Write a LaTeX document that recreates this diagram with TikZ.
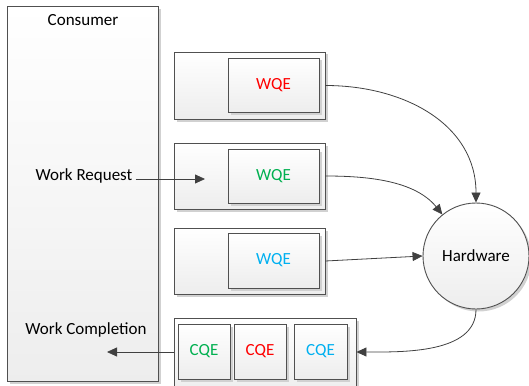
\documentclass[tikz,border=0pt]{standalone}
\usepackage{fontspec}
\setmainfont{Carlito}
\usetikzlibrary{arrows.meta,shadows}
\definecolor{wred}{RGB}{255,0,0}
\definecolor{wgreen}{RGB}{0,176,80}
\definecolor{wblue}{RGB}{0,176,240}
\definecolor{edge}{RGB}{80,80,80}
\tikzset{
  box/.style={draw=edge, line width=0.9pt, top color=white, bottom color=black!7,
    drop shadow={shadow xshift=2.5pt, shadow yshift=-2.5pt, fill=black!18, opacity=1},
    inner sep=0pt, font=\fontsize{17}{19}\selectfont},
  txt/.style={inner sep=0pt, font=\fontsize{17}{19}\selectfont},
  conn/.style={draw=black!75, line width=0.8pt, -{Triangle[length=10pt,width=9pt]}},
}
\begin{document}
\begin{tikzpicture}[x=1pt,y=-1pt]
\useasboundingbox (0,0) rectangle (529,385);
\clip (0,0) rectangle (529,385);
% consumer
\node[box, minimum width=151pt, minimum height=375pt] (cons) at (82.5,194) {};
\node[txt] (constxt) at (83,20) {Consumer};
% queue boxes
\node[box, minimum width=151pt, minimum height=67pt] (b1) at (249.5,85.5) {};
\node[box, minimum width=91pt, minimum height=54pt, text=wred] (w1) at (273.5,85) {WQE};
\node[box, minimum width=151pt, minimum height=66pt] (b2) at (249.5,176) {};
\node[box, minimum width=91pt, minimum height=54pt, text=wgreen] (w2) at (273.5,176) {WQE};
\node[box, minimum width=151pt, minimum height=66pt] (b3) at (249.5,261) {};
\node[box, minimum width=91pt, minimum height=55pt, text=wblue] (w3) at (273.5,260.5) {WQE};
% completion queue
\node[box, minimum width=182pt, minimum height=76pt] (cq) at (265,356) {};
\node[box, minimum width=52pt, minimum height=55pt, text=wgreen] (c1) at (204,351.5) {CQE};
\node[box, minimum width=52pt, minimum height=55pt, text=wred] (c2) at (260,351.5) {CQE};
\node[box, minimum width=53pt, minimum height=55pt, text=wblue] (c3) at (320.5,351.5) {CQE};
% hardware
\node[box, circle, minimum size=106pt] (hw) at (476,256) {Hardware};
% labels
\node[txt] (wr) at (84,176) {Work Request};
\node[txt] (wc) at (86,330) {Work Completion};
\coordinate (wrend) at (205,179);
\coordinate (wcend) at (107,352);
% connectors
\draw[conn] (wr.east |- wrend) ++(3,0) -- (wrend);
\draw[conn] (cq.west |- wcend) -- (wcend);
\draw[conn] (b1.east) to[out=0,in=90,looseness=1.05] (hw.north);
\draw[conn] (b2.east) to[out=0,in=129,looseness=0.9] (hw.129);
\draw[conn] (b3.east) -- (hw.west);
\draw[conn] (hw.south) to[out=-90,in=0,looseness=0.9] (cq.east |- wcend);
\end{tikzpicture}
\end{document}
